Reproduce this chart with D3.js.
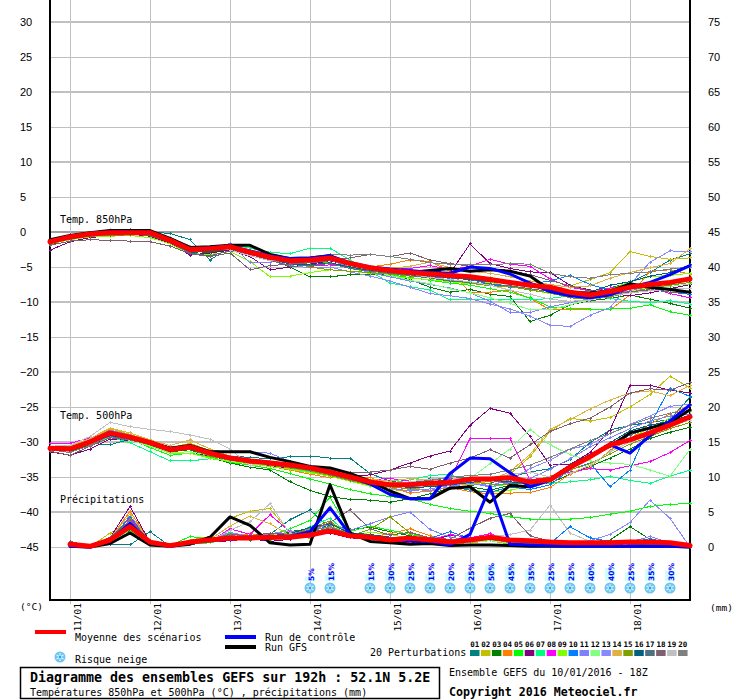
<!DOCTYPE html>
<html>
<head>
<meta charset="utf-8">
<script src="https://cdn.jsdelivr.net/npm/d3@7"></script>
<style>
  body { margin: 0; background: #fff; }
  svg { display: block; }
</style>
</head>
<body>
<div id="chart"></div>
<script>
// 6-hourly steps from 10/01 18Z to 18/01 18Z (33 points)
const dayLabels = ["11/01", "12/01", "13/01", "14/01", "15/01", "16/01", "17/01", "18/01"];
const dayIndex = [1, 5, 9, 13, 17, 21, 25, 29];
const tempTicks = [30, 25, 20, 15, 10, 5, 0, -5, -10, -15, -20, -25, -30, -35, -40, -45];
const precipTicks = [75, 70, 65, 60, 55, 50, 45, 40, 35, 30, 25, 20, 15, 10, 5, 0];

const memberColors = ["#008080", "#c0c000", "#008000", "#ff8000", "#00ff00", "#800080", "#00ff80",
  "#ff00ff", "#80ff00", "#0080ff", "#8080ff", "#80ff80", "#8888ff", "#e0b040", "#80a000",
  "#006080", "#507080", "#806070", "#c0c0c0", "#808080"];
const memberLabels = ["01", "02", "03", "04", "05", "06", "07", "08", "09", "10",
  "11", "12", "13", "14", "15", "16", "17", "18", "19", "20"];

// 850 hPa temperature (°C)
const t850Mean = [-1.4,-0.7,-0.3,-0.1,-0.1,-0.1,-1.2,-2.5,-2.4,-2.1,-2.9,-3.6,-4.1,-4.0,-3.7,-4.5,-5.1,-5.5,-5.8,-6.0,-6.2,-6.4,-6.8,-7.2,-7.6,-7.9,-8.6,-9.0,-8.5,-7.9,-7.5,-7.2,-6.7];
const t850Control = [-1.4,-0.7,-0.2,0.0,0.0,0.0,-1.1,-2.4,-2.3,-2.0,-2.7,-3.4,-3.8,-3.7,-3.4,-4.4,-5.0,-5.3,-5.5,-5.8,-5.9,-5.0,-5.2,-6.0,-7.3,-8.5,-9.1,-9.4,-9.0,-7.9,-7.2,-6.1,-4.8];
const t850Gfs = [-1.1,-0.5,-0.1,0.2,0.2,0.2,-0.9,-2.2,-2.1,-1.9,-1.9,-3.2,-3.8,-3.7,-3.4,-4.5,-5.2,-5.5,-5.8,-5.5,-5.2,-5.6,-5.4,-5.6,-6.3,-8.3,-8.6,-8.7,-8.4,-7.4,-7.9,-8.2,-8.6];
const t850Members = [
  [-1.0,-0.5,-0.2,0.1,0.0,0.0,-0.2,-1.1,-4.0,-2.2,-2.6,-3.4,-4.3,-4.4,-3.9,-4.6,-5.0,-5.2,-5.6,-6.1,-6.4,-6.9,-7.1,-7.3,-7.8,-8.2,-8.7,-8.9,-8.0,-7.2,-5.8,-4.0,-3.1],
  [-1.5,-0.9,-0.5,-0.4,-0.2,-0.5,-1.5,-2.6,-2.3,-1.9,-2.7,-3.4,-3.8,-4.2,-4.0,-4.8,-5.4,-5.7,-5.5,-5.7,-6.0,-6.2,-6.5,-7.0,-7.4,-8.1,-7.7,-6.8,-5.8,-2.8,-3.5,-3.9,-3.7],
  [-1.8,-1.0,-0.6,-0.3,-0.3,-0.4,-1.3,-2.8,-2.9,-2.5,-3.1,-3.9,-5.0,-6.4,-6.4,-6.1,-6.0,-6.2,-6.8,-7.9,-8.6,-8.2,-8.9,-9.2,-12.8,-11.9,-10.4,-9.8,-9.5,-9.0,-9.6,-10.2,-10.9],
  [-1.2,-0.6,-0.1,0.2,0.1,-0.2,-1.0,-2.2,-2.1,-2.0,-2.6,-3.3,-3.8,-3.9,-3.5,-4.4,-5.0,-4.6,-4.0,-4.2,-5.6,-8.6,-8.6,-8.3,-9.5,-11.1,-11.0,-11.0,-11.1,-9.0,-5.6,-5.4,-6.0],
  [-1.6,-0.9,-0.4,-0.2,-0.3,-0.5,-1.4,-2.7,-2.6,-2.3,-3.0,-3.8,-4.5,-4.4,-4.4,-5.2,-5.7,-6.1,-6.5,-6.9,-7.3,-7.6,-8.1,-8.6,-9.4,-10.7,-10.9,-11.0,-11.0,-10.9,-10.4,-11.4,-11.9],
  [-2.6,-1.4,-0.8,-0.5,-0.3,-0.6,-1.6,-3.3,-3.0,-2.6,-3.5,-5.4,-5.0,-4.6,-4.1,-4.8,-5.3,-5.8,-6.0,-5.5,-5.9,-1.7,-4.5,-5.2,-5.7,-5.8,-7.6,-8.3,-8.8,-9.1,-8.7,-8.1,-7.5],
  [-1.3,-0.7,-0.2,0.0,0.2,0.1,-0.9,-2.2,-2.0,-1.8,-2.3,-2.9,-3.1,-2.3,-2.3,-4.0,-5.6,-7.3,-7.8,-8.3,-9.7,-9.7,-9.7,-9.6,-9.7,-9.5,-9.1,-9.0,-9.5,-9.9,-10.1,-9.8,-10.3],
  [-1.1,-0.4,0.0,0.3,0.2,0.0,-1.1,-2.4,-2.2,-2.0,-2.8,-3.5,-4.4,-4.9,-4.7,-5.0,-5.3,-5.4,-5.2,-4.8,-5.4,-4.9,-3.9,-4.6,-4.9,-6.7,-7.9,-8.4,-8.0,-7.7,-7.9,-8.8,-9.4],
  [-1.7,-1.1,-0.7,-0.6,-0.5,-0.8,-1.7,-3.1,-3.2,-2.8,-4.2,-6.4,-6.3,-5.8,-5.4,-5.6,-5.9,-6.3,-6.6,-6.8,-7.1,-7.4,-7.2,-7.8,-8.2,-8.8,-9.2,-9.0,-8.2,-7.1,-6.4,-6.2,-5.9],
  [-1.4,-0.8,-0.3,-0.1,0.0,-0.2,-1.2,-2.5,-2.5,-2.2,-3.0,-3.7,-4.2,-4.1,-3.6,-4.3,-5.1,-5.9,-6.3,-6.4,-6.6,-6.7,-7.5,-7.9,-7.4,-7.0,-6.2,-7.5,-8.3,-7.9,-8.0,-8.6,-8.9],
  [-1.2,-0.5,-0.3,0.1,-0.1,-0.3,-1.3,-2.6,-2.7,-1.6,-4.4,-4.3,-4.0,-4.2,-4.0,-5.0,-5.8,-6.4,-7.0,-7.5,-8.0,-8.7,-9.9,-11.5,-11.5,-10.7,-10.1,-9.5,-9.1,-8.4,-7.8,-7.1,-6.8],
  [-1.5,-0.8,-0.4,-0.2,-0.1,-0.3,-1.3,-2.7,-2.6,-2.3,-2.9,-3.6,-4.0,-3.9,-3.8,-4.8,-5.5,-6.2,-6.9,-7.4,-8.1,-8.7,-9.4,-10.2,-11.1,-11.1,-10.4,-9.7,-9.0,-8.5,-7.9,-7.8,-7.4],
  [-1.3,-0.6,-0.2,0.0,0.1,-0.1,-1.0,-2.1,-2.0,-2.4,-3.2,-3.9,-4.8,-5.1,-5.0,-5.7,-6.3,-7.0,-7.9,-8.8,-9.1,-9.5,-10.3,-11.0,-12.0,-13.3,-13.5,-11.9,-10.8,-7.5,-4.3,-2.7,-2.8],
  [-1.4,-0.7,-0.3,-0.1,-0.2,-0.1,-1.1,-2.4,-2.2,-2.0,-2.8,-3.5,-4.0,-3.8,-3.4,-4.4,-4.9,-5.2,-4.9,-4.3,-5.1,-5.6,-5.9,-6.4,-7.0,-7.5,-7.9,-7.7,-6.6,-5.8,-5.1,-4.5,-2.4],
  [-1.6,-1.0,-0.6,-0.5,-0.4,-0.4,-1.4,-2.8,-2.7,-2.4,-3.1,-3.9,-4.3,-5.0,-5.4,-5.6,-5.8,-6.0,-6.3,-6.5,-6.9,-7.3,-7.7,-7.8,-8.3,-8.7,-9.4,-9.6,-9.3,-8.6,-8.0,-7.6,-7.2],
  [-1.5,-0.8,-0.4,-0.2,-0.2,-0.4,-1.4,-2.9,-2.8,-2.4,-3.1,-3.8,-4.6,-4.7,-4.4,-5.0,-5.5,-5.8,-6.1,-6.3,-6.5,-6.8,-7.0,-7.3,-7.8,-8.3,-8.8,-8.6,-7.6,-7.1,-6.3,-5.8,-4.7],
  [-1.6,-1.0,-0.5,-0.3,-0.3,-0.5,-1.5,-3.0,-3.4,-2.7,-3.2,-4.0,-4.9,-4.8,-4.5,-5.2,-5.6,-5.9,-6.2,-6.6,-7.0,-7.2,-7.4,-7.7,-8.1,-8.5,-9.0,-9.3,-9.0,-8.5,-8.4,-8.0,-8.1],
  [-1.9,-1.3,-1.1,-1.2,-1.3,-1.4,-2.0,-3.1,-3.5,-3.0,-5.4,-4.8,-4.6,-4.4,-4.1,-3.7,-3.2,-3.5,-3.0,-4.0,-4.5,-4.9,-5.2,-5.5,-6.1,-6.9,-7.7,-8.4,-8.9,-8.6,-8.2,-8.6,-8.7],
  [-1.2,-0.5,0.0,0.3,0.4,0.2,-0.8,-2.0,-2.2,-2.6,-3.4,-4.1,-3.8,-3.6,-3.9,-4.7,-5.2,-5.6,-6.0,-6.5,-6.8,-7.1,-7.6,-8.3,-8.9,-9.6,-9.9,-9.7,-9.1,-8.7,-8.4,-8.2,-8.0],
  [-1.3,-0.6,-0.2,0.0,0.3,0.1,-0.9,-2.3,-2.3,-2.1,-2.8,-3.4,-3.9,-3.8,-3.2,-3.3,-3.2,-3.5,-3.9,-4.4,-4.6,-4.6,-4.7,-4.5,-4.6,-5.9,-6.4,-6.6,-6.1,-5.9,-5.7,-5.3,-5.0]
];

// 500 hPa temperature (°C)
const t500Mean = [-30.9,-31.0,-30.0,-28.7,-29.3,-30.1,-31.1,-30.7,-31.6,-32.3,-32.7,-33.0,-33.3,-33.7,-34.3,-35.0,-35.7,-36.1,-36.1,-35.9,-35.8,-35.3,-35.3,-35.1,-35.7,-35.4,-33.6,-32.1,-30.4,-29.7,-28.7,-27.6,-26.4];
const t500Control = [-30.9,-31.0,-30.0,-28.9,-29.4,-30.1,-31.0,-30.6,-31.6,-32.2,-32.6,-32.9,-33.3,-33.7,-34.3,-35.0,-36.0,-37.5,-38.1,-38.1,-34.5,-32.3,-32.4,-34.4,-36.4,-35.5,-33.7,-32.0,-30.4,-31.6,-29.1,-27.0,-24.7];
const t500Gfs = [-30.8,-30.9,-29.9,-28.7,-29.3,-30.0,-30.9,-30.5,-31.4,-31.4,-31.4,-32.2,-32.8,-33.5,-33.7,-34.5,-35.6,-37.0,-38.1,-38.1,-36.6,-36.4,-38.6,-36.2,-36.4,-35.4,-33.6,-31.9,-30.6,-28.7,-28.0,-27.2,-25.4];
const t500Members = [
  [-30.8,-31.2,-30.2,-30.4,-29.6,-30.3,-31.2,-30.9,-31.8,-32.0,-32.2,-32.4,-32.1,-32.0,-32.3,-32.3,-34.5,-35.6,-36.0,-35.2,-35.8,-36.2,-35.9,-35.0,-34.3,-33.8,-32.5,-30.1,-28.3,-27.6,-27.2,-26.8,-23.6],
  [-30.6,-30.7,-29.6,-28.1,-28.9,-29.8,-30.8,-30.2,-31.2,-32.1,-32.8,-33.4,-33.8,-34.2,-34.9,-35.6,-36.2,-36.8,-37.0,-36.1,-35.6,-35.3,-35.5,-34.6,-32.1,-28.5,-26.6,-27.0,-26.5,-25.0,-23.2,-20.6,-22.3],
  [-31.1,-31.3,-30.4,-29.3,-29.8,-30.4,-31.4,-31.1,-32.2,-33.0,-33.6,-34.0,-35.7,-36.9,-37.8,-38.2,-38.3,-38.6,-38.1,-37.4,-36.6,-36.4,-36.9,-36.2,-35.7,-35.9,-34.6,-33.5,-32.3,-31.0,-29.5,-28.6,-27.9],
  [-30.7,-30.8,-29.7,-28.4,-29.0,-29.9,-30.9,-30.3,-31.4,-32.4,-33.1,-33.5,-34.0,-34.6,-35.1,-35.2,-35.0,-36.4,-37.3,-37.0,-36.5,-37.1,-37.4,-37.3,-37.2,-36.5,-34.6,-33.6,-31.2,-29.6,-27.4,-26.0,-24.8],
  [-31.0,-31.0,-30.2,-29.0,-29.6,-30.8,-31.9,-31.6,-32.1,-32.9,-33.3,-33.8,-34.5,-35.3,-36.0,-36.8,-37.4,-37.8,-38.1,-38.9,-39.5,-39.9,-40.2,-40.7,-41.0,-41.0,-41.0,-40.8,-40.3,-39.9,-39.2,-38.9,-38.8],
  [-31.4,-31.9,-31.0,-29.6,-29.8,-30.6,-31.5,-31.4,-32.0,-32.6,-33.0,-33.4,-33.7,-34.1,-34.5,-34.9,-34.7,-34.0,-33.0,-32.0,-31.3,-27.6,-25.2,-25.9,-29.2,-33.3,-33.2,-31.5,-28.3,-21.9,-21.9,-22.6,-23.0],
  [-30.9,-31.1,-30.3,-29.3,-30.1,-31.4,-32.7,-32.7,-32.4,-32.6,-33.0,-33.5,-33.9,-34.2,-34.8,-35.3,-35.7,-35.9,-35.4,-34.8,-34.6,-35.8,-36.4,-36.0,-35.6,-35.9,-35.7,-35.4,-34.9,-35.5,-35.9,-34.9,-34.0],
  [-30.2,-30.2,-29.4,-28.6,-29.1,-30.0,-31.1,-30.8,-31.7,-32.1,-32.6,-32.9,-33.2,-33.6,-34.4,-35.1,-35.4,-35.2,-35.6,-36.0,-35.3,-29.5,-29.5,-29.5,-35.4,-35.0,-34.3,-33.8,-34.0,-33.4,-32.8,-31.5,-29.8],
  [-31.0,-31.1,-30.1,-28.9,-29.6,-30.6,-31.6,-31.6,-32.3,-32.8,-33.1,-33.5,-33.9,-34.4,-34.9,-35.6,-36.3,-36.5,-36.2,-36.0,-35.8,-36.8,-37.2,-36.9,-36.3,-35.5,-33.6,-32.0,-30.6,-29.5,-28.0,-26.6,-25.6],
  [-30.8,-30.9,-29.9,-28.5,-29.2,-30.1,-31.1,-30.6,-31.6,-32.4,-32.9,-33.2,-33.6,-34.0,-34.7,-35.4,-36.0,-36.4,-35.8,-35.5,-36.3,-36.9,-37.2,-36.4,-36.8,-36.1,-34.0,-33.0,-36.4,-34.0,-27.5,-22.3,-23.5],
  [-30.9,-31.0,-30.0,-28.6,-29.1,-29.9,-30.7,-30.6,-31.2,-31.4,-31.4,-31.6,-32.8,-33.4,-34.0,-34.9,-35.7,-36.6,-37.0,-36.7,-36.2,-35.9,-36.4,-35.8,-35.2,-33.9,-32.4,-30.7,-29.4,-28.1,-27.0,-26.3,-26.0],
  [-31.0,-31.1,-30.2,-29.1,-29.8,-30.6,-31.5,-31.4,-31.9,-32.7,-33.0,-33.3,-33.6,-34.0,-34.6,-35.3,-36.0,-36.5,-36.3,-35.8,-35.6,-35.2,-33.1,-31.0,-28.2,-30.4,-31.8,-32.7,-33.0,-33.2,-34.0,-34.9,-31.1],
  [-30.7,-30.8,-29.7,-28.3,-29.0,-30.0,-30.9,-30.5,-31.4,-32.1,-32.6,-33.0,-33.4,-33.8,-34.5,-35.2,-35.8,-36.3,-36.8,-36.9,-36.4,-35.9,-36.2,-35.4,-33.8,-32.6,-31.0,-30.4,-28.8,-27.5,-26.3,-24.9,-24.6],
  [-30.6,-30.6,-29.5,-28.0,-28.7,-29.7,-30.5,-29.7,-31.0,-32.0,-32.5,-32.9,-33.3,-33.7,-34.4,-35.0,-35.3,-35.6,-35.2,-35.5,-35.9,-36.1,-35.6,-34.2,-31.8,-28.2,-26.8,-25.3,-24.0,-23.0,-22.7,-23.4,-21.9],
  [-30.9,-31.1,-30.1,-29.0,-29.5,-30.3,-31.3,-31.0,-32.0,-32.6,-33.0,-33.3,-33.7,-34.1,-34.8,-35.5,-36.1,-36.4,-36.7,-36.3,-36.0,-35.7,-36.0,-36.1,-35.6,-34.9,-34.0,-33.1,-31.7,-30.3,-29.2,-28.1,-27.2],
  [-30.8,-30.9,-30.0,-28.8,-29.3,-30.2,-31.2,-30.9,-31.8,-32.4,-32.8,-33.2,-33.5,-33.9,-34.5,-35.2,-35.9,-36.2,-36.5,-36.4,-36.1,-35.8,-35.4,-35.7,-35.9,-35.2,-33.2,-31.8,-30.1,-28.4,-27.6,-27.0,-26.2],
  [-31.0,-31.1,-30.2,-29.2,-29.7,-30.4,-31.3,-31.0,-31.9,-32.5,-32.9,-33.2,-33.6,-34.0,-34.6,-35.3,-35.9,-36.0,-35.7,-35.4,-35.2,-35.0,-35.5,-35.9,-36.0,-35.5,-33.8,-32.2,-30.6,-29.0,-28.0,-27.0,-26.5],
  [-31.3,-31.9,-30.6,-29.4,-29.7,-30.4,-31.1,-30.8,-31.8,-32.4,-32.7,-32.9,-33.1,-33.5,-34.0,-34.4,-34.3,-34.0,-33.5,-33.9,-33.0,-32.3,-31.1,-32.3,-30.4,-28.5,-27.4,-26.6,-25.0,-23.0,-22.4,-22.6,-21.5],
  [-30.6,-30.5,-29.2,-27.2,-27.8,-28.2,-28.5,-29.0,-29.6,-31.0,-33.4,-33.1,-33.5,-33.9,-34.5,-35.0,-35.6,-35.9,-35.7,-35.3,-35.1,-35.4,-35.3,-34.6,-34.3,-35.0,-34.5,-33.3,-31.4,-30.0,-28.8,-27.6,-26.9],
  [-31.1,-31.5,-30.5,-29.1,-29.4,-30.2,-31.2,-30.9,-31.9,-32.6,-32.9,-33.2,-33.5,-33.9,-34.4,-35.2,-35.8,-36.3,-36.0,-35.5,-35.0,-34.8,-34.6,-34.0,-33.3,-32.2,-31.0,-29.8,-28.8,-27.6,-26.6,-25.9,-25.5]
];

// 6-hourly precipitation (mm), none for the first step
const precipMean = [null,0.4,0.1,1.0,2.9,0.7,0.2,0.7,1.0,1.3,1.3,1.4,1.4,1.7,2.3,1.6,1.4,1.0,1.3,1.0,0.7,1.0,1.4,1.0,0.9,0.7,0.6,0.6,0.6,0.7,0.7,0.6,0.2];
const precipControl = [null,0.1,0,0.9,3.4,0.6,0.1,0.6,0.9,1.2,1.4,1.3,1.5,2.2,5.6,1.8,1.4,1.1,0.9,0.8,0.3,1.8,8.6,0.4,0.3,0.2,0.1,0.1,0.1,0.1,0.1,0.1,0];
const precipGfs = [null,0.1,0,0.5,2.0,0.3,0.1,0.4,1.4,4.3,3.1,0.6,0.3,0.4,8.9,2.0,0.8,0.6,0.4,0.5,0.2,0.3,0.3,0.2,0.1,0.1,0.1,0.1,0.1,0.1,0.1,0.1,0];
const precipMembers = [
  [null,0.2,0,0.4,0.3,2.2,0.1,0.3,0.8,1.6,1.0,1.8,3.9,5.3,2.6,1.4,1.2,0.8,1.5,0.6,0.4,0.9,1.3,0.7,0.6,0.3,0.5,0.4,0.8,0.6,0.3,0.2,0],
  [null,0.1,0,2.0,3.4,0.6,0.1,1.0,1.5,4.1,5.1,5.5,2.0,1.2,2.8,1.9,1.5,1.2,0.8,1.1,0.5,0.6,0.9,0.4,0.5,0.3,0.6,0.9,0.7,0.5,0.4,0.3,0],
  [null,0.3,0,0.9,2.4,0.5,0.2,0.8,1.2,0.9,1.6,1.3,2.2,2.6,3.1,2.5,2.8,2.2,1.6,1.0,0.6,0.8,1.0,0.6,0.4,0.4,0.5,0.7,1.0,2.9,1.1,0.6,0],
  [null,0.2,0,1.1,5.1,0.8,0.1,0.5,0.9,1.4,1.9,1.6,1.5,2.0,3.6,1.8,1.4,1.9,2.6,1.6,0.9,1.2,1.5,0.8,0.6,0.8,0.5,0.6,0.4,0.5,0.6,0.4,0],
  [null,0.1,0,0.6,2.2,0.9,0.2,1.5,1.1,2.0,1.4,1.7,2.6,3.8,7.1,2.2,3.0,2.4,1.8,1.3,0.8,0.9,1.6,1.1,0.7,0.5,0.4,0.6,0.5,0.9,0.6,0.5,0],
  [null,0.2,0,1.3,5.8,0.7,0.3,0.6,0.7,0.9,1.2,0.8,1.1,1.6,2.0,1.3,1.2,0.9,0.6,0.8,1.7,1.4,0.9,0.7,0.5,0.4,0.3,0.5,0.3,0.5,0.4,0.3,0],
  [null,0.3,0,0.7,3.3,0.8,0.1,0.4,0.6,1.2,1.5,1.2,1.6,2.9,4.1,1.7,1.5,1.2,0.9,1.1,0.6,0.8,1.0,0.7,0.5,0.3,0.4,0.3,0.4,0.6,0.5,0.3,0],
  [null,0.1,0,1.0,4.2,0.6,0.1,0.6,0.8,2.6,1.8,4.6,2.2,1.3,2.4,1.4,1.1,0.8,0.7,1.0,1.8,1.3,1.9,0.9,0.6,0.8,0.5,0.4,0.6,0.4,0.3,0.2,0],
  [null,0.2,0,0.8,2.7,0.5,0.2,0.4,0.7,1.1,1.3,1.0,1.4,2.3,3.4,1.5,2.1,1.8,1.2,0.8,0.5,0.7,1.1,0.8,0.4,0.5,0.3,0.4,0.5,0.6,0.4,0.2,0],
  [null,0.3,0,0.9,4.4,0.7,0.2,0.7,1.3,1.1,1.6,1.4,1.8,2.4,2.9,1.8,1.5,1.3,1.0,1.2,2.2,1.2,1.5,1.0,0.6,0.5,2.9,1.3,0.8,0.6,1.2,0.5,0],
  [null,0.2,0,0.6,3.0,0.6,0.1,0.5,0.9,1.7,1.2,1.5,2.0,2.5,3.2,2.4,3.3,4.3,5.0,2.5,1.4,1.0,1.2,0.8,0.7,0.6,0.5,0.8,0.6,0.7,1.5,0.6,0],
  [null,0.1,0,0.5,2.5,0.4,0.2,0.6,0.8,1.3,1.7,1.2,1.9,2.2,5.8,2.1,1.6,1.4,1.1,0.9,0.6,0.7,0.9,0.6,0.5,0.4,0.3,0.5,0.4,0.5,0.3,0.2,0],
  [null,0.2,0,0.7,3.6,0.8,0.2,0.7,1.0,2.1,1.5,1.9,2.3,1.8,2.6,1.9,1.7,1.1,1.4,1.3,0.9,0.8,1.2,0.6,0.5,0.4,0.6,0.9,1.8,3.5,6.7,4.1,0],
  [null,0.2,0,1.2,4.7,0.7,0.1,0.8,1.1,3.0,4.4,3.3,1.7,1.6,3.0,1.7,1.4,1.0,0.8,0.9,0.7,1.1,1.4,0.9,0.6,0.5,0.4,0.6,0.5,0.7,0.5,0.3,0],
  [null,0.2,0,1.0,3.9,0.6,0.2,0.5,0.9,1.5,1.1,1.3,1.7,2.7,3.7,1.6,2.5,4.3,2.0,1.3,0.6,0.9,1.1,0.7,0.5,0.4,0.5,0.5,0.6,0.8,0.5,0.3,0],
  [null,0.3,0,0.8,3.1,0.7,0.1,0.6,1.0,1.2,1.4,1.6,1.9,2.8,3.3,2.0,1.8,1.4,1.1,0.9,0.7,0.9,1.3,0.8,0.6,0.4,0.5,0.6,0.5,0.6,0.4,0.3,0],
  [null,0.2,0,0.9,2.8,0.5,0.2,0.7,0.8,1.4,1.3,1.1,1.5,2.1,2.7,1.8,1.6,1.3,0.9,1.0,0.6,0.8,1.2,0.7,0.4,0.5,0.4,0.5,0.4,0.5,0.3,0.2,0],
  [null,0.8,0.1,1.4,3.8,0.9,0.3,0.6,1.1,1.8,1.6,2.0,1.8,2.4,3.5,5.3,2.6,1.7,2.1,1.3,1.1,2.7,4.1,4.8,1.6,0.8,0.5,0.7,0.5,0.6,0.4,0.3,0],
  [null,0.2,0,0.7,3.2,0.6,0.1,0.5,0.9,2.4,3.6,6.2,1.9,1.5,2.6,1.6,1.3,1.0,0.8,1.0,0.7,0.9,1.5,1.8,2.4,6.0,2.0,0.8,0.6,0.5,0.4,0.3,0],
  [null,0.5,0,0.8,3.5,0.8,0.2,0.6,1.0,1.6,1.4,1.5,1.6,2.3,2.9,1.9,1.5,1.2,1.0,0.9,0.6,0.8,1.1,0.7,0.5,0.4,0.4,0.5,0.4,0.5,0.4,0.2,0]
];

// snow risk (%) per step, 0 = none
const snowRisk = [0,0,0,0,0,0,0,0,0,0,0,0,0,5,15,0,15,30,25,15,20,25,50,45,35,25,25,40,40,25,35,30,0];

const W = 740, H = 700;
const left = 50, right = 690, bottom = 600;
const mono = "'DejaVu Sans Mono', monospace";
const sans = "'Liberation Sans', Arial, sans-serif";

const svg = d3.select("#chart").append("svg")
  .attr("width", W).attr("height", H)
  .attr("viewBox", `0 0 ${W} ${H}`);

svg.append("rect").attr("width", W).attr("height", H).attr("fill", "#fff");

const x = d3.scaleLinear().domain([0, 32]).range([left, right]);
const yT = d3.scaleLinear().domain([-45, 30]).range([547, 22]);
const yP = d3.scaleLinear().domain([0, 75]).range([547, 22]);

// grid
const grid = svg.append("g").attr("shape-rendering", "crispEdges");
grid.selectAll("line.h")
  .data(tempTicks)
  .join("line")
  .attr("class", "h")
  .attr("x1", left).attr("x2", right)
  .attr("y1", d => yT(d)).attr("y2", d => yT(d))
  .attr("stroke", d => d === 0 ? "#a0a0a0" : "#c0c0c0")
  .attr("stroke-width", d => d % 10 === 0 ? 2 : 1);
grid.selectAll("line.v")
  .data(dayIndex)
  .join("line")
  .attr("class", "v")
  .attr("x1", d => x(d)).attr("x2", d => x(d))
  .attr("y1", 0).attr("y2", bottom + 4)
  .attr("stroke", "#c0c0c0");

// axes
svg.append("g")
  .attr("transform", `translate(${left},0)`)
  .call(d3.axisLeft(yT).tickValues(tempTicks).tickSize(0).tickPadding(0).tickFormat(d3.format("d")))
  .call(g => g.select(".domain").remove())
  .call(g => g.attr("font-family", sans).attr("font-size", 11))
  .call(g => g.selectAll("text").attr("text-anchor", "start").attr("x", -30).attr("fill", "#000"));

svg.append("g")
  .attr("transform", `translate(${right},0)`)
  .call(d3.axisRight(yP).tickValues(precipTicks).tickSize(0).tickPadding(18).tickFormat(d3.format("d")))
  .call(g => g.select(".domain").remove())
  .call(g => g.attr("font-family", sans).attr("font-size", 11))
  .call(g => g.selectAll("text").attr("fill", "#000"));

// frame
svg.append("path")
  .attr("d", `M${left},0V${bottom}H${right}V0`)
  .attr("fill", "none").attr("stroke", "#000").attr("stroke-width", 2);

// date labels
svg.append("g").selectAll("text")
  .data(dayIndex)
  .join("text")
  .attr("transform", d => `translate(${x(d) + 11},603) rotate(-90)`)
  .attr("text-anchor", "end")
  .attr("font-family", mono).attr("font-size", 9.5)
  .text((d, k) => dayLabels[k]);

svg.append("text").attr("x", 20).attr("y", 607).attr("dy", "0.35em")
  .attr("font-family", mono).attr("font-size", 9.5).text("(°C)");
svg.append("text").attr("x", 710).attr("y", 608).attr("dy", "0.35em")
  .attr("font-family", mono).attr("font-size", 9.5).text("(mm)");

// panel titles
[["Temp. 850hPa", 219], ["Temp. 500hPa", 415], ["Précipitations", 499]].forEach(([t, yy]) => {
  svg.append("text").attr("x", 60).attr("y", yy).attr("dy", "0.35em")
    .attr("font-family", mono).attr("font-size", 10).text(t);
});

// series
const lineT = d3.line().x((d, i) => x(i)).y(d => yT(d));
const lineP = d3.line().defined(d => d != null).x((d, i) => x(i)).y(d => yP(d));

function crosses(vals, y) {
  return vals.map((v, i) => v == null ? "" :
    `M${x(i) - 1.5},${y(v)}h3M${x(i)},${y(v) - 1.5}v3`).join("");
}

// perturbations drawn aliased, like the original bitmap
const members = svg.append("g").attr("fill", "none").attr("shape-rendering", "crispEdges");
[[precipMembers, yP, lineP], [t500Members, yT, lineT], [t850Members, yT, lineT]].forEach(([set, y, line]) => {
  set.forEach((vals, k) => {
    members.append("path").attr("d", line(vals))
      .attr("stroke", memberColors[k]).attr("stroke-width", 1);
    members.append("path").attr("d", crosses(vals, y))
      .attr("stroke", memberColors[k]).attr("stroke-width", 1);
  });
});

const main = svg.append("g").attr("fill", "none")
  .attr("stroke-linejoin", "round").attr("stroke-linecap", "round");
[[t850Gfs, t500Gfs, precipGfs, "#000", 3],
 [t850Control, t500Control, precipControl, "#0000ff", 3],
 [t850Mean, t500Mean, precipMean, "#ff0000", 5]].forEach(([a, b, c, col, w]) => {
  main.append("path").attr("d", lineP(c)).attr("stroke", col).attr("stroke-width", w);
  main.append("path").attr("d", lineT(b)).attr("stroke", col).attr("stroke-width", w);
  main.append("path").attr("d", lineT(a)).attr("stroke", col).attr("stroke-width", w);
});

// snowflake glyph
function snowflake(g, cx, cy) {
  const s = g.append("g").attr("transform", `translate(${cx},${cy})`);
  s.append("circle").attr("r", 5.5).attr("fill", "#6cc6f0");
  [0, 60, 120].forEach(a => {
    s.append("line").attr("x1", -4).attr("x2", 4).attr("y1", 0).attr("y2", 0)
      .attr("transform", `rotate(${a + 90})`)
      .attr("stroke", "#e8f8ff").attr("stroke-width", 1);
  });
  s.append("circle").attr("r", 1.3).attr("fill", "#3a9ee0");
}

const snow = svg.append("g");
snowRisk.forEach((p, i) => {
  if (!p) return;
  const cx = x(i);
  const h = 3 + p * 0.25;
  snow.append("rect").attr("x", cx - 5).attr("y", 581 - h).attr("width", 10).attr("height", h)
    .attr("fill", "#ccffff");
  snow.append("text")
    .attr("transform", `translate(${cx + 3.5},581) rotate(-90)`)
    .attr("font-family", "'DejaVu Sans', sans-serif").attr("font-weight", "bold")
    .attr("font-size", 7.5).attr("fill", "#0000ff")
    .text(p + "%");
  snowflake(snow, cx, 588);
});

// legend
const leg = svg.append("g").attr("font-family", mono).attr("font-size", 10);
leg.append("line").attr("x1", 35).attr("x2", 66).attr("y1", 632).attr("y2", 632)
  .attr("stroke", "#ff0000").attr("stroke-width", 4);
leg.append("text").attr("x", 75).attr("y", 637).attr("dy", "0.35em").text("Moyenne des scénarios");
leg.append("line").attr("x1", 225).attr("x2", 256).attr("y1", 637).attr("y2", 637)
  .attr("stroke", "#0000ff").attr("stroke-width", 4);
leg.append("text").attr("x", 265).attr("y", 637).attr("dy", "0.35em").text("Run de contrôle");
leg.append("line").attr("x1", 225).attr("x2", 256).attr("y1", 647).attr("y2", 647)
  .attr("stroke", "#000").attr("stroke-width", 4);
leg.append("text").attr("x", 265).attr("y", 647).attr("dy", "0.35em").text("Run GFS");
snowflake(leg, 60, 657);
leg.append("text").attr("x", 75).attr("y", 659).attr("dy", "0.35em").text("Risque neige");
leg.append("text").attr("x", 370).attr("y", 652).attr("dy", "0.35em").text("20 Perturbations");

const sw = leg.append("g");
sw.selectAll("rect")
  .data(memberColors)
  .join("rect")
  .attr("x", (d, k) => 470 + k * 10.95).attr("y", 650)
  .attr("width", 9.5).attr("height", 6)
  .attr("fill", d => d);
sw.selectAll("text")
  .data(memberLabels)
  .join("text")
  .attr("x", (d, k) => 470 + k * 10.95 + 4.75).attr("y", 644).attr("dy", "0.35em")
  .attr("text-anchor", "middle").attr("font-size", 7.5).attr("font-weight", "bold")
  .text(d => d);

// title box
svg.append("rect").attr("x", 20.5).attr("y", 667.5).attr("width", 419).attr("height", 31)
  .attr("fill", "#fff").attr("stroke", "#000").attr("stroke-width", 1.5);
svg.append("text").attr("x", 30).attr("y", 677).attr("dy", "0.35em")
  .attr("font-family", mono).attr("font-weight", "bold").attr("font-size", 13.3)
  .text("Diagramme des ensembles GEFS sur 192h : 52.1N 5.2E");
svg.append("text").attr("x", 30).attr("y", 692).attr("dy", "0.35em")
  .attr("font-family", mono).attr("font-size", 10)
  .text("Températures 850hPa et 500hPa (°C) , précipitations (mm)");
svg.append("text").attr("x", 449).attr("y", 672).attr("dy", "0.35em")
  .attr("font-family", mono).attr("font-size", 10)
  .text("Ensemble GEFS du 10/01/2016 - 18Z");
svg.append("text").attr("x", 449).attr("y", 692).attr("dy", "0.35em")
  .attr("font-family", mono).attr("font-weight", "bold").attr("font-size", 11.6)
  .text("Copyright 2016 Meteociel.fr");
</script>
</body>
</html>
